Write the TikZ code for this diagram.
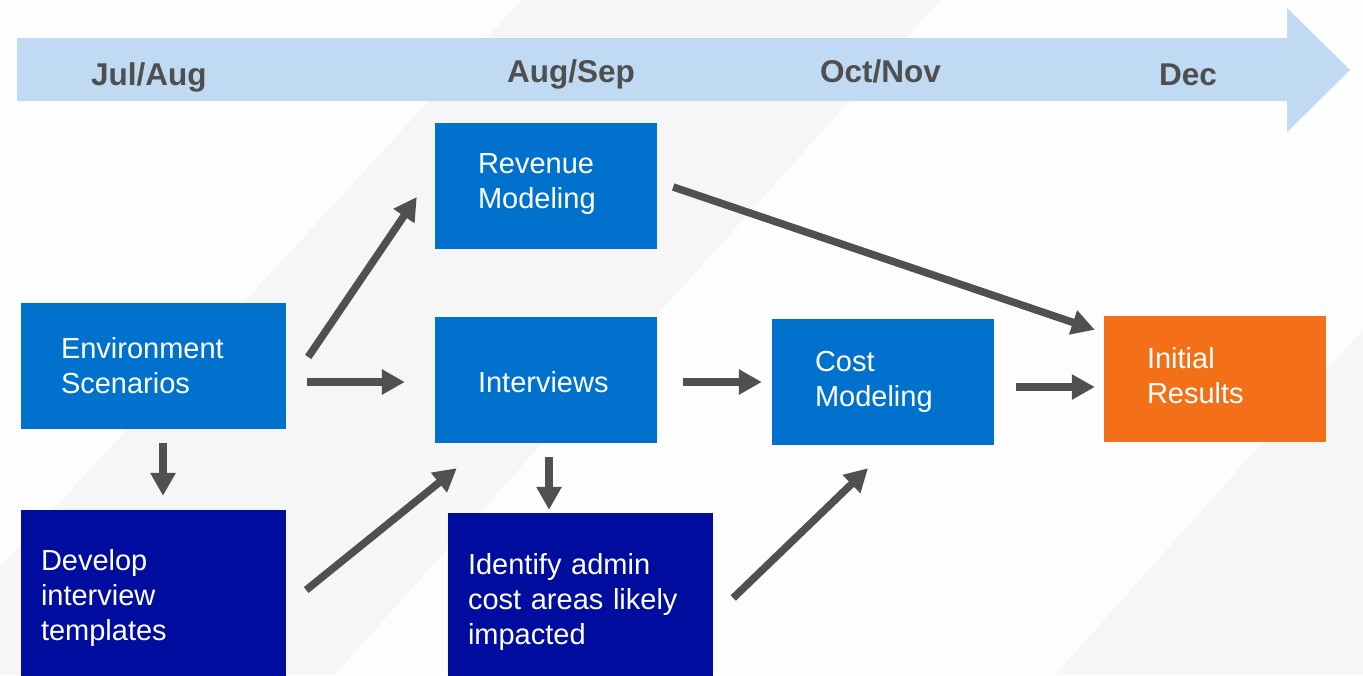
\documentclass[tikz,border=0pt]{standalone}
\usepackage{fontspec}
\setmainfont{Liberation Sans}
\usepackage{tikz}
\usetikzlibrary{arrows.meta, calc, positioning}
\definecolor{pagegray}{HTML}{FDFDFD}
\definecolor{bandgray}{HTML}{F6F6F6}
\definecolor{barblue}{HTML}{BFDAF2}
\definecolor{boxblue}{HTML}{0072CE}
\definecolor{boxnavy}{HTML}{000D9F}
\definecolor{boxorange}{HTML}{F37018}
\definecolor{arrowgray}{HTML}{505050}
\definecolor{monthgray}{HTML}{4F4F4F}

\begin{document}
\begin{tikzpicture}[x=1pt, y=-1pt,
    box/.style={rectangle, inner sep=0pt, text width=#1, minimum height=126pt,
        align=left, text=white, font=\fontsize{29}{35}\selectfont},
    inset/.style={execute at begin node={\leftskip=#1\relax}},
    month/.style={anchor=base west, inner sep=0pt, text=monthgray,
        font=\fontsize{31.5}{36}\selectfont\bfseries},
    flow/.style={draw=arrowgray, line width=7.5pt,
        -{Triangle[length=23pt, width=24pt]}}]
    \useasboundingbox (0,0) rectangle (1363,675);
    % background
    \fill[pagegray] (0,0) rectangle (1363,675);
    \fill[bandgray] (522,0) -- (940,0) -- (334,675) -- (-99,675) -- cycle;
    \fill[bandgray] (1363,330) -- (1363,675) -- (1055,675) -- cycle;
    % timeline
    \fill[barblue] (17,38) -- (1287,38) -- (1287,8) -- (1350,70)
        -- (1287,132) -- (1287,101) -- (17,101) -- cycle;
    \node[month] (jul) at (91,85) {Jul/Aug};
    \node[month] (aug) at (507,82) {Aug/Sep};
    \node[month] (oct) at (820,82) {Oct/Nov};
    \node[month] (dec) at (1159,85) {Dec};
    % boxes
    \node[box=222pt, inset=43pt, fill=boxblue, text depth=45pt] (rev) at (546,186) {Revenue\\Modeling};
    \node[box=265pt, inset=40pt, fill=boxblue] (env) at (153.5,366) {Environment\\Scenarios};
    \node[box=222pt, inset=43pt, fill=boxblue, text height=26pt] (iv) at (546,380) {Interviews};
    \node[box=222pt, inset=43pt, fill=boxblue] (cost) at (883,382) {Cost\\Modeling};
    \node[box=222pt, inset=43pt, fill=boxorange, text depth=43pt] (init) at (1215,379) {Initial\\Results};
    \node[box=265pt, inset=20pt, fill=boxnavy, minimum height=175pt] (dev) at (153.5,597.5)
        {Develop\\interview\\templates};
    \node[box=265pt, inset=20pt, fill=boxnavy, minimum height=177pt] (ident) at (580.5,601.5)
        {Identify admin\\cost areas likely\\impacted};
    % arrows
    \draw[flow] ($(env.east)+(22,-9)$) -- ($(rev.west)+(-18,11)$);
    \draw[flow] ($(env.east)+(21,16)$) -- ($(iv.west)+(-30,2)$);
    \draw[flow] ($(rev.east)+(16,1)$) -- ($(init.north west)+(-9,14)$);
    \draw[flow] ($(iv.east)+(26,2)$) -- ($(cost.west)+(-10,0)$);
    \draw[flow] ($(cost.east)+(22,5)$) -- ($(init.west)+(-9,8)$);
    \draw[flow] ($(env.south)+(9.5,14)$) -- ($(dev.north)+(9.5,-14)$);
    \draw[flow] ($(dev.east)+(20,-7.5)$) -- ($(iv.south west)+(22,25)$);
    \draw[flow] ($(iv.south)+(3,14)$) -- ($(ident.north)+(-31.5,-3)$);
    \draw[flow] ($(ident.east)+(20,-3.5)$) -- ($(cost.south)+(-15,23)$);
\end{tikzpicture}
\end{document}
